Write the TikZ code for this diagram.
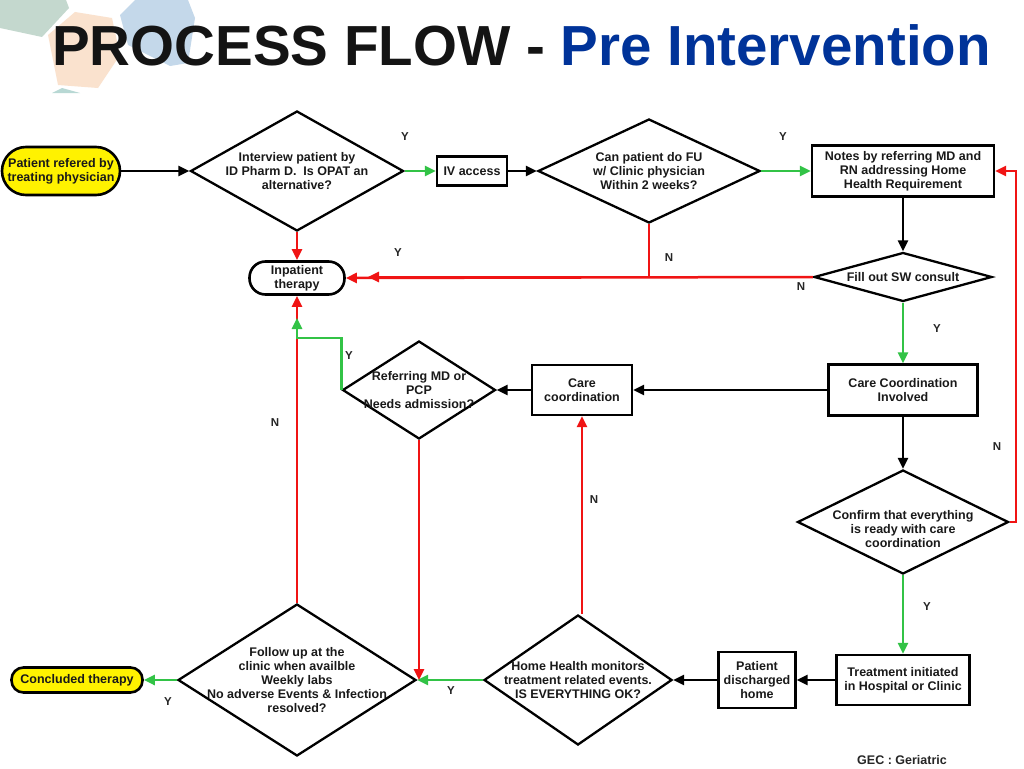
\documentclass[tikz,border=0pt]{standalone}
\usepackage{fontspec}
\setmainfont{Liberation Sans}
\usetikzlibrary{shapes.geometric,arrows.meta}
\definecolor{redl}{RGB}{240,20,20}
\definecolor{grnl}{RGB}{50,195,70}
\definecolor{ttlblue}{RGB}{0,51,153}
\definecolor{decgreen}{RGB}{196,216,206}
\definecolor{decpeach}{RGB}{250,226,206}
\definecolor{decblue}{RGB}{196,216,234}
\definecolor{decteal}{RGB}{184,216,212}
\begin{document}
\begin{tikzpicture}[x=1pt,y=-1pt,
  txt/.style={font=\bfseries\fontsize{12.5}{14}\selectfont, align=center, text=black!90},
  box/.style={draw, line width=2.3pt, rectangle, txt, inner sep=2pt},
  dia/.style={draw, line width=2.3pt, diamond, inner sep=0pt},
  term/.style={draw, line width=2.6pt, rectangle, txt, inner sep=0pt},
  lab/.style={font=\bfseries\fontsize{11.5}{12}\selectfont, text=black!85},
  arr/.style={line width=2.5pt, -{Triangle[length=11pt,width=10pt]}},
  blk/.style={arr, black},
  rd/.style={arr, redl},
  gr/.style={arr, grnl}
]
\fill[white] (0,0) rectangle (1024,768);
\useasboundingbox (0,0) rectangle (1024,768);
% decoration
\fill[decgreen] (0,0) -- (66,0) -- (69,8) -- (42,37) -- (0,28) -- cycle;
\fill[decpeach] (48,35) -- (75,12) -- (112,18) -- (120,55) -- (98,88) -- (58,85) -- cycle;
\fill[decblue] (120,15) -- (135,0) -- (188,0) -- (195,18) -- (188,63) -- (170,66) -- (128,45) -- cycle;
\fill[decteal] (52,93) -- (62,88) -- (80,93) -- cycle;
% title
\node[anchor=base west, inner sep=0pt, font=\bfseries\fontsize{56.5}{60}\selectfont, text=black!92] (title) at (52,66) {PROCESS FLOW - \textcolor{ttlblue}{Pre Intervention}};

% nodes
\node[term, fill=yellow, rounded corners=24pt, minimum width=118pt, minimum height=48pt] (pat) at (61,171) {Patient refered by\\treating physician};
\node[dia, minimum width=213pt, minimum height=120pt, label={[txt]center:Interview patient by\\ID Pharm D.\ \ Is OPAT an\\alternative?}] (d1) at (297,171) {};
\node[box, minimum width=70pt, minimum height=29pt] (iv) at (472,171) {IV access};
\node[dia, minimum width=222pt, minimum height=104pt, label={[txt]center:Can patient do FU\\w/ Clinic physician\\Within 2 weeks?}] (d2) at (649,171) {};
\node[box, minimum width=182pt, minimum height=51pt] (notes) at (903,171) {Notes by referring MD and\\RN addressing Home\\Health Requirement};
\node[dia, minimum width=178pt, minimum height=49pt, label={[txt]center:Fill out SW consult}] (sw) at (903,277) {};
\node[term, rounded corners=16pt, minimum width=95pt, minimum height=33pt] (inp) at (297,278) {Inpatient\\therapy};
\node[box, minimum width=149pt, minimum height=51pt] (cci) at (903,390) {Care Coordination\\Involved};
\node[box, minimum width=100pt, minimum height=50pt] (cc) at (582,390) {Care\\coordination};
\node[dia, minimum width=153pt, minimum height=98pt, label={[txt]center:Referring MD or\\PCP\\Needs admission?}] (ref) at (419,390) {};
\node[dia, minimum width=211pt, minimum height=104pt, label={[txt,yshift=-7pt]center:Confirm that everything\\is ready with care\\coordination}] (conf) at (903,522) {};
\node[box, minimum width=133pt, minimum height=50pt] (treat) at (903,680) {Treatment initiated\\in Hospital or Clinic};
\node[box, minimum width=77pt, minimum height=56pt] (dis) at (757,680) {Patient\\discharged\\home};
\node[dia, minimum width=188pt, minimum height=130pt, label={[txt]center:Home Health monitors\\treatment related events.\\IS EVERYTHING OK?}] (hh) at (578,680) {};
\node[dia, minimum width=238pt, minimum height=152pt, label={[txt]center:Follow up at the\\clinic when availble\\Weekly labs\\No adverse Events \& Infection\\resolved?}] (fu) at (297,680) {};
\node[term, fill=yellow, rounded corners=12pt, minimum width=131pt, minimum height=25pt] (conc) at (77,680) {Concluded therapy};
\node[lab, font=\bfseries\fontsize{12.5}{14}\selectfont] (gec) at (902,760) {GEC : Geriatric};

% helper coordinates
\coordinate (tipA) at (368,277);
\coordinate (d2k) at (649,277);
\coordinate (rt) at (1016,171);
\coordinate (gk) at (297,338);
\coordinate (gtip) at (297,318);

% connectors
\draw[blk] (pat.east) -- (d1.west);
\draw[gr] (d1.east) -- (iv.west);
\draw[blk] (iv.east) -- (d2.west);
\draw[gr] (d2.east) -- (notes.west);
\draw[rd] (d1.south) -- (inp.north);
\draw[rd] (d2.south) -- (d2k) -- (tipA);
\draw[rd] (sw.west) -- (inp.east);
\draw[blk] (notes.south) -- (sw.north);
\draw[gr] (sw.south) -- (cci.north);
\draw[blk] (cci.west) -- (cc.east);
\draw[blk] (cci.south) -- (conf.north);
\draw[rd] (conf.east) -| (rt) -- (notes.east);
\draw[gr] (conf.south) -- (treat.north);
\draw[blk] (treat.west) -- (dis.east);
\draw[blk] (dis.west) -- (hh.east);
\draw[rd] (cc.south |- hh.north) -- (cc.south);
\draw[gr] (hh.west) -- (fu.east);
\draw[blk] (cc.west) -- (ref.east);
\draw[rd] (fu.north) -- (inp.south);
\draw[gr] (ref.west) |- (gk) -- (gtip);
\draw[rd] (ref.south) -- (ref.south |- fu.east);
\draw[gr] (fu.west) -- (conc.east);

% labels
\node[lab] (l1) at (405,137) {Y};
\node[lab] (l2) at (783,137) {Y};
\node[lab] (l3) at (398,253) {Y};
\node[lab] (l4) at (669,258) {N};
\node[lab] (l5) at (801,287) {N};
\node[lab] (l6) at (937,329) {Y};
\node[lab] (l7) at (349,356) {Y};
\node[lab] (l8) at (275,423) {N};
\node[lab] (l9) at (997,447) {N};
\node[lab] (l10) at (594,500) {N};
\node[lab] (l11) at (927,607) {Y};
\node[lab] (l12) at (451,691) {Y};
\node[lab] (l13) at (168,702) {Y};
\end{tikzpicture}
\end{document}
